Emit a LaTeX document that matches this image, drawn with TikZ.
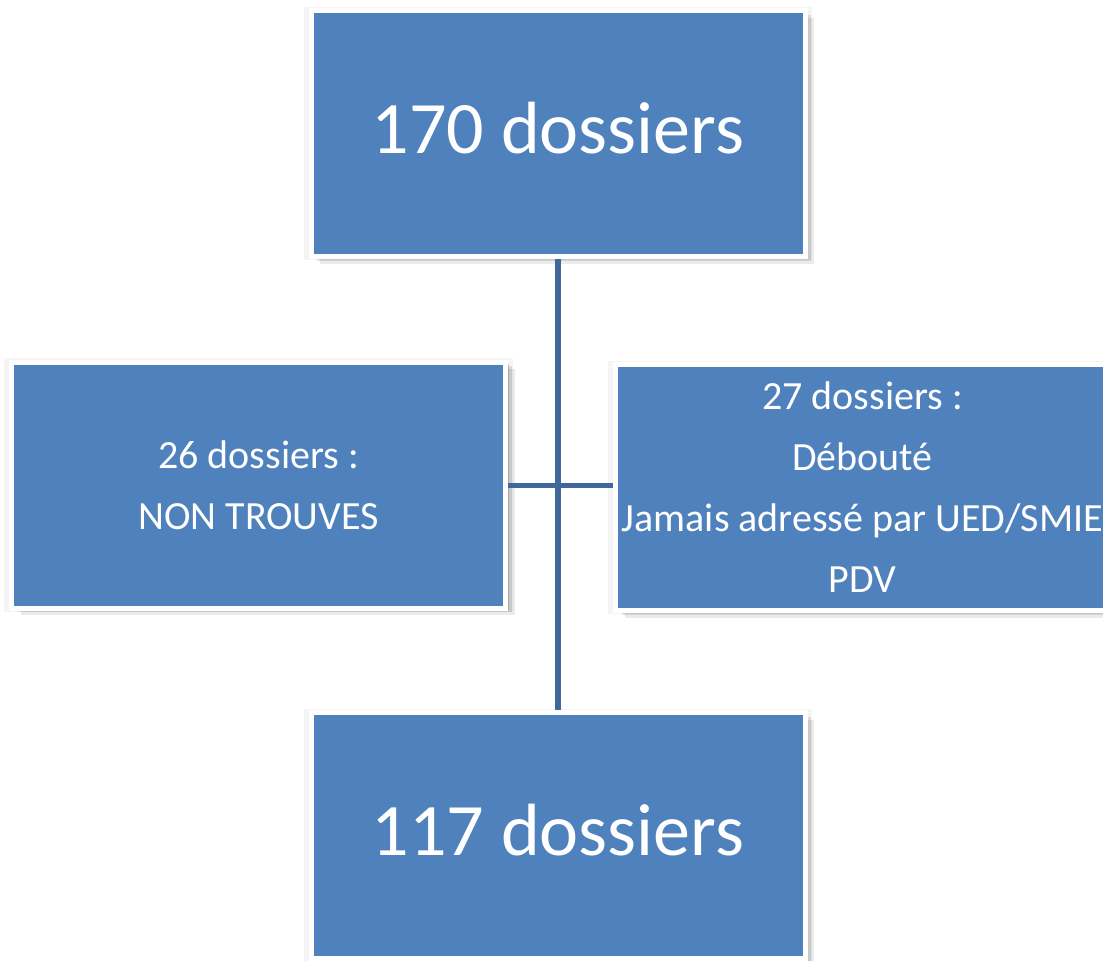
\documentclass[tikz,border=0pt]{standalone}
\usepackage{fontspec}
\setmainfont{Carlito}
\usetikzlibrary{shadows}
\definecolor{boxblue}{RGB}{79,129,189}
\definecolor{lineblue}{RGB}{65,104,155}
\tikzset{
  box/.style={rectangle, fill=boxblue, draw=white, line width=5pt,
    minimum width=494pt, minimum height=246pt, inner sep=0pt, text=white,
    align=center,
    general shadow={fill=black, opacity=.04, shadow scale=1.03},
    general shadow={fill=black, opacity=.08, shadow xshift=9pt, shadow yshift=-7pt},
    general shadow={fill=black, opacity=.11, shadow xshift=6pt, shadow yshift=-4pt},
    general shadow={fill=black, opacity=.15, shadow xshift=3pt, shadow yshift=-2pt}},
  bigtext/.style={font=\fontsize{74}{80}\selectfont, text height=47pt, text depth=8pt},
  smalltext/.style={font=\fontsize{40}{61}\selectfont},
  link/.style={draw=lineblue, line width=5.5pt}
}
\begin{document}
\begin{tikzpicture}[x=1pt,y=-1pt]
\useasboundingbox (0,0) rectangle (1103,961);
\clip (0,0) rectangle (1103,961);
\fill[white] (0,0) rectangle (1103,961);
\node[box, bigtext] (top) at (558,133.5) {170 dossiers};
\node[box, smalltext] (left) at (258.5,485) {26 dossiers :\\NON TROUVES};
\node[box, smalltext] (right) at (862.5,487.5) {27 dossiers :\\Débouté\\Jamais adressé par UED/SMIE\\PDV};
\node[box, bigtext] (bot) at (558,835.5) {117 dossiers};
\draw[link] (top.south) -- (bot.north);
\draw[link, line width=5pt] (left.east) -- (left.east -| right.west);
\end{tikzpicture}
\end{document}
